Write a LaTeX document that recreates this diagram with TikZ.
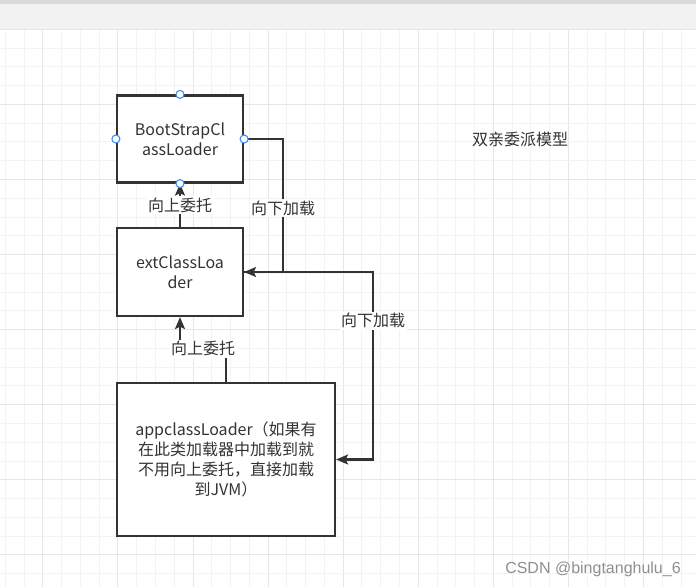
\documentclass[tikz,border=0pt]{standalone}
\usepackage{fontspec}
\setmainfont{Noto Sans CJK SC}
\newfontfamily\wmfont{Liberation Sans}
\usetikzlibrary{arrows.meta}
\definecolor{linegray}{HTML}{333333}
\definecolor{textgray}{HTML}{333333}
\definecolor{gridminor}{HTML}{F3F3F3}
\definecolor{gridmajor}{HTML}{E6E6E6}
\definecolor{barlight}{HTML}{F2F2F2}
\definecolor{bardark}{HTML}{D9D9D9}
\definecolor{handleblue}{HTML}{3B8FF0}
\definecolor{markgray}{HTML}{8F8F8F}
\tikzset{
  loaderbox/.style={draw=linegray, line width=2.2pt, fill=white, rectangle, align=center, text=textgray, font=\fontsize{16}{20}\selectfont},
  flow/.style={draw=linegray, line width=2.2pt, -{Stealth[length=12pt,width=10pt,inset=2.5pt]}},
  flowlabel/.style={fill=white, inner sep=1.5pt, text=textgray, font=\fontsize{16}{20}\selectfont},
  handle/.style={circle, draw=handleblue, fill=white, line width=1.1pt, minimum size=8pt, inner sep=0pt}
}
\begin{document}
\begin{tikzpicture}[x=1pt, y=-1pt]
    \useasboundingbox (0,0) rectangle (696,587);
    % Fondo y rejilla
    \fill[white] (0,0) rectangle (696,587);
    \fill[barlight] (0,4) rectangle (696,29);
    \fill[bardark] (0,0) rectangle (696,4);
    \foreach \i in {0,...,37} {
        \pgfmathtruncatemacro{\m}{mod(\i,4)}
        \ifnum\m=2 \def\gc{gridmajor}\else \def\gc{gridminor}\fi
        \draw[\gc, line width=1pt] ({5.3+18.77*\i},29) -- ({5.3+18.77*\i},587);
    }
    \foreach \j in {0,...,29} {
        \pgfmathtruncatemacro{\m}{mod(\j,4)}
        \ifnum\m=0 \def\gc{gridmajor}\else \def\gc{gridminor}\fi
        \draw[\gc, line width=1pt] (0,{29.3+18.77*\j}) -- (696,{29.3+18.77*\j});
    }

    % Cajas
    \node[loaderbox, minimum width=126pt, minimum height=87pt] (boot) at (180,139) {BootStrapCl\\assLoader};
    \node[loaderbox, minimum width=126pt, minimum height=88pt] (ext) at (180,272) {extClassLoa\\der};
    \node[loaderbox, minimum width=218pt, minimum height=153pt] (app) at (226,459.5)
        {appclassLoader（如果有\\在此类加载器中加载到就\\不用向上委托，直接加载\\到JVM）};

    % Conectores
    \draw[flow] (ext.north) -- node[flowlabel] {向上委托} (boot.south);
    \draw[flow] (boot.east) -- ++(39,0) |- node[flowlabel, pos=0.26] {向下加载} (ext.east);
    \draw[flow] (ext.east) -- ++(129,0) |- node[flowlabel, pos=0.13] {向下加载} (app.east);
    \draw[flow] (app.north) -- ++(0,-33) -| node[flowlabel, pos=0.25] {向上委托} (ext.south);

    % Marcas de seleccion
    \foreach \a in {north,south,east,west}
        \node[handle] at (boot.\a) {};

    % Textos
    \node[text=textgray, font=\fontsize{16}{20}\selectfont] (title) at (520,139) {双亲委派模型};
    \node[text=markgray, font=\wmfont\fontsize{16}{20}\selectfont] (mark) at (593,569) {CSDN @bingtanghulu\_6};
\end{tikzpicture}
\end{document}
